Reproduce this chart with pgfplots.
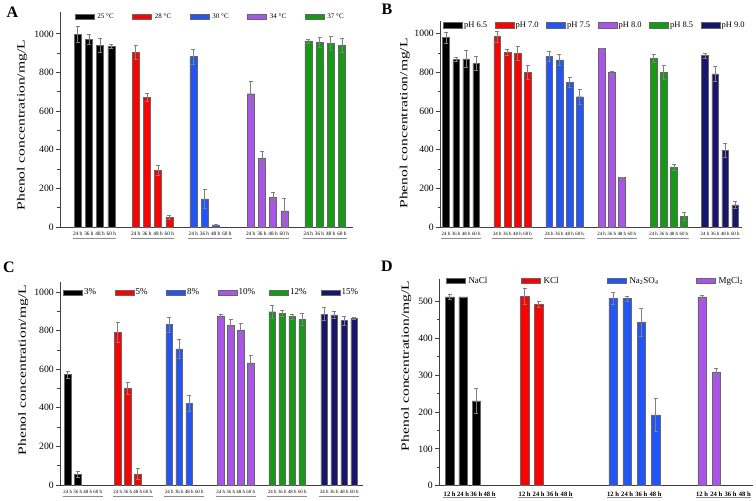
\documentclass[border=0pt]{standalone}
\usepackage{fontspec}
\setmainfont{Liberation Serif}
\usepackage{pgfplots}
\pgfplotsset{compat=1.18}
\definecolor{cblack}{HTML}{000000}
\definecolor{cred}{HTML}{FF0000}
\definecolor{cblue}{HTML}{2255F5}
\definecolor{cpurp}{HTML}{A855E8}
\definecolor{cgreen}{HTML}{149A14}
\definecolor{cnavy}{HTML}{16166E}
\pgfplotsset{
  panel/.style={
    scale only axis, anchor=south west, ymin=0, clip=false,
    axis x line*=bottom, axis y line*=left,
    axis line style={-, black!75, line width=0.8pt},
    tick align=outside,
    ytick style={black!75, line width=0.7pt},
    major tick length=4pt, minor tick length=2.5pt,
    minor y tick num=1,
    xtick style={draw=none},
    yticklabel style={font=\fontsize{9.7}{10}\selectfont, inner sep=2pt},
    xticklabel style={font=\fontsize{5.3}{6}\selectfont, inner sep=0pt, yshift=-1pt},
    /pgf/number format/assume math mode=true,
    /pgf/number format/set thousands separator={},
    legend columns=-1,
    legend style={draw=none, fill=none, anchor=west, inner sep=0pt, outer sep=0pt,
      column sep=0pt, nodes={inner sep=0pt}},
    ylabel={\scalebox{1.42}[1]{Phenol concentration/mg/L}},
    ylabel style={font=\fontsize{11}{12}\selectfont, anchor=center},
  },
  bars/.style={ybar, bar shift=0pt, fill=#1, draw=black!60, line width=0.4pt,
    legend image code/.code={\draw[##1, line width=0.5pt] (0pt,-2.7pt) rectangle (19pt,2.7pt);},
    error bars/.cd, y dir=both, y explicit,
    error bar style={black!50, line width=0.5pt},
    error mark options={rotate=90, mark size=2pt, black!50, line width=0.5pt}},
}
\begin{document}
\begin{tikzpicture}
\useasboundingbox (0pt,0pt) rectangle (756pt,501pt);
% ---------------- A ----------------
\begin{axis}[panel, at={(60pt,274pt)}, width=293pt, height=215pt,
  xmin=0, xmax=293, ymax=1113, bar width=7pt,
  ytick={0,200,...,1000},
  xtick={17.7,28.9,40.1,51.3, 75.7,86.9,98.1,109.3, 133.3,144.5,155.7,166.9, 190.7,201.9,213.1,224.3, 248.3,259.5,270.7,281.9},
  xticklabels={24 h,36 h,48 h,60 h,24 h,36 h,48 h,60 h,24 h,36 h,48 h,60 h,24 h,36 h,48 h,60 h,24 h,36 h,48 h,60 h},
  ylabel style={at={(axis description cs:-0.130,0.474)}},
  legend style={at={(axis description cs:0.0512,0.978)}, font=\fontsize{7}{8}\selectfont},
]
\addplot[bars=cblack] coordinates {(17.7,997) +- (0,43) (28.9,973) +- (0,25) (40.1,941) +- (0,35) (51.3,935) +- (0,10)};
\addlegendentry{\makebox[38pt][l]{\hspace{3pt}25 °C}}
\addplot[bars=cred] coordinates {(75.7,905) +- (0,35) (86.9,670) +- (0,20) (98.1,294) +- (0,25) (109.3,50) +- (0,10)};
\addlegendentry{\makebox[38pt][l]{\hspace{3pt}28 °C}}
\addplot[bars=cblue] coordinates {(133.3,883) +- (0,38) (144.5,145) +- (0,50) (155.7,10) +- (0,2)};
\addlegendentry{\makebox[38pt][l]{\hspace{3pt}30 °C}}
\addplot[bars=cpurp] coordinates {(190.7,690) +- (0,65) (201.9,355) +- (0,35) (213.1,152) +- (0,30) (224.3,83) +- (0,65)};
\addlegendentry{\makebox[38pt][l]{\hspace{3pt}34 °C}}
\addplot[bars=cgreen] coordinates {(248.3,963) +- (0,10) (259.5,956) +- (0,25) (270.7,952) +- (0,35) (281.9,942) +- (0,35)};
\addlegendentry{\makebox[38pt][l]{\hspace{3pt}37 °C}}
\foreach \s in {17.7,75.7,133.3,190.7,248.3}{
  \edef\tmp{\noexpand\draw[black!45, line width=0.8pt] ([yshift=-11pt]axis cs:\s-5,0) -- ([yshift=-11pt]axis cs:\s+38.6,0);}\tmp
}
\end{axis}
% ---------------- B ----------------
\begin{axis}[panel, at={(440pt,274pt)}, width=301.6pt, height=206pt,
  xmin=0, xmax=301.6, ymax=1066, bar width=6.7pt,
  ytick={0,200,...,1000},
  xtick={6,16.1,26.2,36.3, 57.3,67.4,77.5,87.6, 109.3,119.4,129.5,139.6, 161.6,171.7,181.8,191.9, 213.6,223.7,233.8,243.9, 265,275.1,285.2,295.3},
  xticklabels={24 h,36 h,48 h,60 h,24 h,36 h,48 h,60 h,24 h,36 h,48 h,60 h,24 h,36 h,48 h,60 h,24 h,36 h,48 h,60 h,24 h,36 h,48 h,60 h},
  xticklabel style={font=\fontsize{4.9}{6}\selectfont},
  ylabel style={at={(axis description cs:-0.117,0.503)}},
  legend style={at={(axis description cs:0.010,0.980)}, font=\fontsize{8.5}{9}\selectfont},
]
\addplot[bars=cblack] coordinates {(6,980) +- (0,28) (16.1,866) +- (0,10) (26.2,870) +- (0,43) (36.3,846) +- (0,35)};
\addlegendentry{\makebox[32pt][l]{\hspace{1.5pt}pH 6.5}}
\addplot[bars=cred] coordinates {(57.3,985) +- (0,28) (67.4,904) +- (0,15) (77.5,898) +- (0,35) (87.6,801) +- (0,35)};
\addlegendentry{\makebox[32pt][l]{\hspace{1.5pt}pH 7.0}}
\addplot[bars=cblue] coordinates {(109.3,883) +- (0,25) (119.4,865) +- (0,28) (129.5,750) +- (0,27) (139.6,674) +- (0,38)};
\addlegendentry{\makebox[32pt][l]{\hspace{1.5pt}pH 7.5}}
\addplot[bars=cpurp] coordinates {(161.6,926) +- (0,1) (171.7,799) +- (0,8) (181.8,256) +- (0,3)};
\addlegendentry{\makebox[32pt][l]{\hspace{1.5pt}pH 8.0}}
\addplot[bars=cgreen] coordinates {(213.6,872) +- (0,20) (223.7,800) +- (0,36) (233.8,310) +- (0,17) (243.9,55) +- (0,22)};
\addlegendentry{\makebox[32pt][l]{\hspace{1.5pt}pH 8.5}}
\addplot[bars=cnavy] coordinates {(265,887) +- (0,12) (275.1,793) +- (0,40) (285.2,396) +- (0,36) (295.3,114) +- (0,19)};
\addlegendentry{\makebox[32pt][l]{\hspace{1.5pt}pH 9.0}}
\foreach \s in {6,57.3,109.3,161.6,213.6,265}{
  \edef\tmp{\noexpand\draw[black!45, line width=0.8pt] ([yshift=-11pt]axis cs:\s-5,0) -- ([yshift=-11pt]axis cs:\s+35.3,0);}\tmp
}
\end{axis}
% ---------------- C ----------------
\begin{axis}[panel, at={(60pt,16pt)}, width=303.3pt, height=203pt,
  xmin=0, xmax=303.3, ymax=1052, bar width=6.7pt,
  ytick={0,200,...,1000},
  xtick={7.7,17.7,27.7,37.7, 57.7,67.7,77.7,87.7, 109.3,119.3,129.3,139.3, 160.7,170.7,180.7,190.7, 212.3,222.3,232.3,242.3, 264.3,274.3,284.3,294.3},
  xticklabels={24 h,36 h,48 h,60 h,24 h,36 h,48 h,60 h,24 h,36 h,48 h,60 h,24 h,36 h,48 h,60 h,24 h,36 h,48 h,60 h,24 h,36 h,48 h,60 h},
  xticklabel style={font=\fontsize{4.9}{6}\selectfont},
  ylabel style={at={(axis description cs:-0.121,0.566)}},
  legend style={at={(axis description cs:0.0099,0.947)}, font=\fontsize{9}{10}\selectfont},
]
\addplot[bars=cblack] coordinates {(7.7,573) +- (0,18) (17.7,57) +- (0,15)};
\addlegendentry{\makebox[32pt][l]{\hspace{1.5pt}3\%}}
\addplot[bars=cred] coordinates {(57.7,791) +- (0,50) (67.7,502) +- (0,30) (77.7,57) +- (0,28)};
\addlegendentry{\makebox[32pt][l]{\hspace{1.5pt}5\%}}
\addplot[bars=cblue] coordinates {(109.3,832) +- (0,38) (119.3,706) +- (0,47) (129.3,424) +- (0,42)};
\addlegendentry{\makebox[32pt][l]{\hspace{1.5pt}8\%}}
\addplot[bars=cpurp] coordinates {(160.7,877) +- (0,8) (170.7,827) +- (0,30) (180.7,803) +- (0,33) (190.7,633) +- (0,40)};
\addlegendentry{\makebox[32pt][l]{\hspace{1.5pt}10\%}}
\addplot[bars=cgreen] coordinates {(212.3,898) +- (0,36) (222.3,891) +- (0,17) (232.3,874) +- (0,13) (242.3,860) +- (0,30)};
\addlegendentry{\makebox[32pt][l]{\hspace{1.5pt}12\%}}
\addplot[bars=cnavy] coordinates {(264.3,886) +- (0,34) (274.3,881) +- (0,17) (284.3,853) +- (0,24) (294.3,864) +- (0,5)};
\addlegendentry{\makebox[32pt][l]{\hspace{1.5pt}15\%}}
\foreach \s in {7.7,57.7,109.3,160.7,212.3,264.3}{
  \edef\tmp{\noexpand\draw[black!45, line width=0.8pt] ([yshift=-11pt]axis cs:\s-5,0) -- ([yshift=-11pt]axis cs:\s+35,0);}\tmp
}
\end{axis}
% ---------------- D ----------------
\begin{axis}[panel, at={(439pt,15.3pt)}, width=314pt, height=206.4pt,
  xmin=0, xmax=314, ymax=560, bar width=8.5pt,
  ytick={0,100,...,500},
  xtick={10.7,24,37.3,50.6, 85.7,99.7,113.7,127.7, 174,188.2,202.4,216.6, 263,277.3,291.6,305.9},
  xticklabels={12 h,24 h,36 h,48 h,12 h,24 h,36 h,48 h,12 h,24 h,36 h,48 h,12 h,24 h,36 h,48 h},
  xticklabel style={font=\bfseries\fontsize{6.6}{7}\selectfont, yshift=-1.5pt},
  ylabel style={at={(axis description cs:-0.104,0.581)}},
  legend style={at={(axis description cs:0.0223,0.992)}, font=\fontsize{9}{10}\selectfont},
]
\addplot[bars=cblack] coordinates {(10.7,512) +- (0,7) (24,512) +- (0,0.5) (37.3,230) +- (0,34)};
\addlegendentry{\makebox[55.5pt][l]{\hspace{3pt}NaCl}}
\addplot[bars=cred] coordinates {(85.7,514) +- (0,22) (99.7,492) +- (0,9)};
\addlegendentry{\makebox[66.5pt][l]{\hspace{3pt}KCl}}
\addplot[bars=cblue] coordinates {(174,509) +- (0,17) (188.2,508) +- (0,7) (202.4,444) +- (0,38) (216.6,192) +- (0,44)};
\addlegendentry{\makebox[69.5pt][l]{\hspace{3pt}Na\textsubscript{2}SO\textsubscript{4}}}
\addplot[bars=cpurp] coordinates {(263,512) +- (0,6) (277.3,308) +- (0,11)};
\addlegendentry{\makebox[30pt][l]{\hspace{3pt}MgCl\textsubscript{2}}}
\foreach \s/\e in {10.7/50.6,85.7/127.7,174/216.6,263/305.9}{
  \edef\tmp{\noexpand\draw[black!45, line width=0.8pt] ([yshift=-12pt]axis cs:\s-6.5,0) -- ([yshift=-12pt]axis cs:\e+6.5,0);}\tmp
}
\end{axis}
% panel letters
\node[font=\bfseries\fontsize{16}{16}\selectfont] at (12.5pt,488.5pt) {A};
\node[font=\bfseries\fontsize{16}{16}\selectfont] at (387pt,492pt) {B};
\node[font=\bfseries\fontsize{16}{16}\selectfont] at (9pt,234pt) {C};
\node[font=\bfseries\fontsize{16}{16}\selectfont] at (387pt,235pt) {D};
\end{tikzpicture}
\end{document}
